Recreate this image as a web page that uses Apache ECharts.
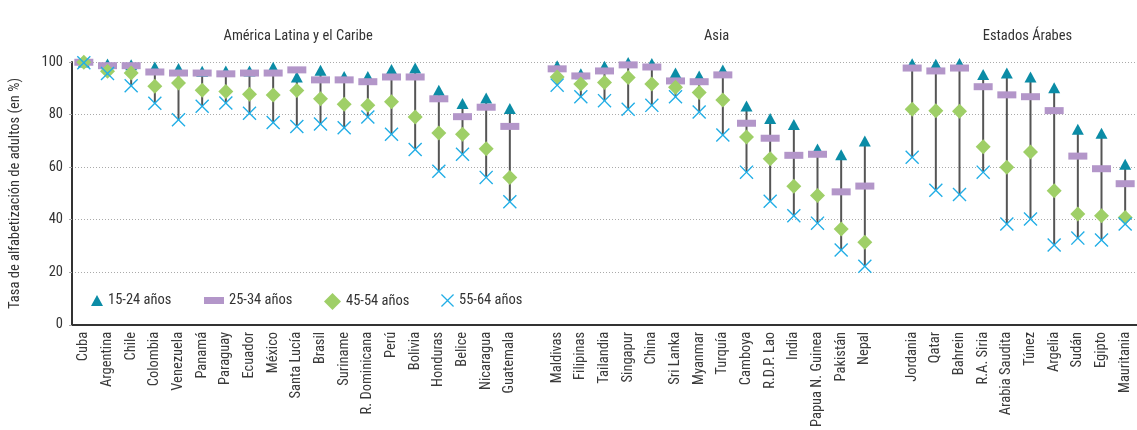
<!DOCTYPE html>
<html>
<head>
<meta charset="utf-8">
<script src="https://cdn.jsdelivr.net/npm/echarts@6/dist/echarts.min.js"></script>
<style>
    html, body {margin: 0; padding: 0; background: #fff;}
    #chart {width: 1137px; height: 430px;}
</style>
</head>
<body>
<div id="chart"></div>
<script>
    // países (con un hueco '' entre regiones)
    var countries = ['Cuba', 'Argentina', 'Chile', 'Colombia', 'Venezuela', 'Panamá', 'Paraguay', 'Ecuador', 'México',
        'Santa Lucía', 'Brasil', 'Suriname', 'R. Dominicana', 'Perú', 'Bolivia', 'Honduras', 'Belice', 'Nicaragua', 'Guatemala',
        '',
        'Maldivas', 'Filipinas', 'Tailandia', 'Singapur', 'China', 'Sri Lanka', 'Myanmar', 'Turquía', 'Camboya',
        'R.D.P. Lao', 'India', 'Papua N. Guinea', 'Pakistán', 'Nepal',
        '',
        'Jordania', 'Qatar', 'Bahrein', 'R.A. Siria', 'Arabia Saudita', 'Túnez', 'Argelia', 'Sudán', 'Egipto', 'Mauritania'];
    var regions = ['América Latina y el Caribe', 'Asia', 'Estados Árabes'];
    var regionStart = [0, 20, 35];
    var regionSize = [19, 14, 10];

    var age15_24 = [100, 99.2, 99, 98.1, 97.5, 96.5, 96.6, 96.6, 98, 94.3, 96.9, 94.5, 94.5, 97.1, 97.7, 89.3, 84.2, 86.3, 82.3,
        null,
        98.6, 95.5, 98.4, 99.8, 99.4, 95.8, 94.7, 97, 83.3, 78.5, 76.2, 66.9, 64.7, 69.9,
        null,
        99.3, 99.1, 99.4, 95.2, 95.8, 94.3, 90.2, 74.4, 72.9, 61.1];
    var age25_34 = [99.9, 98.6, 98.6, 96.2, 95.8, 95.8, 95.5, 95.8, 95.8, 97, 93.2, 93.2, 92.5, 94.3, 94.3, 86, 79.2, 82.8, 75.5,
        null,
        97.4, 94.7, 96.6, 98.9, 98.1, 92.8, 92.5, 95.1, 76.7, 71, 64.5, 64.9, 50.6, 52.8,
        null,
        97.7, 96.6, 97.7, 90.6, 87.5, 86.8, 81.5, 64.2, 59.4, 53.7];
    var age45_54 = [99.9, 96.5, 95.8, 90.8, 92, 89.3, 88.8, 87.7, 87.4, 89.2, 86, 83.9, 83.5, 84.9, 79.1, 73, 72.5, 67, 56.1,
        null,
        94.3, 91.6, 92.2, 94.1, 91.6, 90.4, 88.4, 85.5, 71.5, 63.2, 52.7, 49.2, 36.5, 31.4,
        null,
        82, 81.5, 81.3, 67.8, 60, 65.8, 51, 42.2, 41.5, 40.8];
    var age55_64 = [99.7, 95.6, 91, 84.3, 78, 83.2, 84.4, 80.5, 77, 75.5, 76.4, 75, 79.1, 72.5, 66.7, 58.4, 64.9, 56.1, 46.8,
        null,
        91.2, 86.8, 85.3, 82, 83.5, 86.8, 81, 72.2, 58.1, 47, 41.5, 38.7, 28.5, 22.3,
        null,
        63.8, 51.2, 49.6, 58.1, 38.4, 40.3, 30.4, 33, 32.3, 38.4];
    var seriesNames = ['15-24 años', '25-34 años', '45-54 años', '55-64 años'];
    var yTicks = [0, 20, 40, 60, 80, 100];

    var FONT = '"Liberation Sans Narrow", "Roboto Condensed", "DejaVu Sans Condensed", sans-serif';
    var FS = 14.5;
    var gridLeft = 66, gridWidth = 1076, slot = gridWidth / countries.length;
    var crossPath = 'path://M7,0L50,43L93,0L100,7L57,50L100,93L93,100L50,57L7,100L0,93L43,50L0,7Z';

    // rango (min-max) por país
    var ranges = countries.map(function (c, i) {
        var vals = [age15_24[i], age25_34[i], age45_54[i], age55_64[i]].filter(function (v) {
            return v !== null;
        });
        if (!vals.length) return [i, null, null];
        return [i, Math.min.apply(null, vals), Math.max.apply(null, vals)];
    });

    var myChart = echarts.init(document.getElementById('chart'));
    var option = {
        animation: false,
        textStyle: {fontFamily: FONT},
        title: regions.map(function (r, k) {
            return {
                text: r,
                left: gridLeft + (regionStart[k] + regionSize[k] / 2) * slot,
                top: 24,
                textAlign: 'center',
                textStyle: {fontFamily: FONT, fontSize: FS, fontWeight: 'normal', color: '#333'}
            };
        }),
        legend: [
            {name: seriesNames[0], icon: 'triangle', w: 12, h: 11, left: 91},
            {name: seriesNames[1], icon: 'rect', w: 20, h: 7, left: 204},
            {name: seriesNames[2], icon: 'diamond', w: 17, h: 17, left: 324},
            {name: seriesNames[3], icon: crossPath, w: 13, h: 13, left: 441}
        ].map(function (l) {
            return {
                data: [{name: l.name, icon: l.icon}],
                left: l.left,
                top: 301 - 8,
                itemWidth: l.w,
                itemHeight: l.h,
                itemGap: 0,
                padding: 0,
                selectedMode: false,
                textStyle: {fontFamily: FONT, fontSize: FS, color: '#333'}
            };
        }),
        grid: {left: gridLeft, top: 62, width: gridWidth, height: 264},
        xAxis: {
            type: 'category',
            data: countries,
            axisLine: {lineStyle: {color: '#333', width: 2}},
            axisTick: {show: false},
            axisLabel: {
                interval: 0,
                rotate: 90,
                margin: 7,
                fontFamily: FONT,
                fontSize: FS,
                color: '#3a3a3a'
            },
            splitLine: {show: false}
        },
        yAxis: {
            type: 'value',
            min: 0,
            max: 100,
            interval: 20,
            name: 'Tasa de alfabetización de adultos (en %)',
            nameLocation: 'middle',
            nameGap: 49,
            nameTextStyle: {fontFamily: FONT, fontSize: FS, color: '#333'},
            axisLine: {show: true, lineStyle: {color: '#333', width: 2}},
            axisTick: {show: true, length: 3, lineStyle: {color: '#aaa'}},
            axisLabel: {
                margin: 9,
                fontFamily: FONT,
                fontSize: FS,
                color: '#333',
                formatter: function (v) {
                    return yTicks.indexOf(v) > -1 ? v : '';
                }
            },
            splitLine: {lineStyle: {color: '#aaa', type: [1, 2], width: 1}}
        },
        series: [
            {
                type: 'custom',
                silent: true,
                z: 1,
                data: ranges,
                renderItem: function (params, api) {
                    if (api.value(1) === null || isNaN(api.value(1))) return;
                    var p1 = api.coord([api.value(0), api.value(1)]);
                    var p2 = api.coord([api.value(0), api.value(2)]);
                    return {
                        type: 'line',
                        shape: {x1: p1[0], y1: p1[1], x2: p2[0], y2: p2[1]},
                        style: {stroke: '#555', lineWidth: 2}
                    };
                }
            },
            {
                name: seriesNames[0], type: 'scatter', z: 2, symbol: 'triangle', symbolSize: [12, 11],
                itemStyle: {color: '#0B8CA6', opacity: 1}, data: age15_24
            },
            {
                name: seriesNames[1], type: 'scatter', z: 3, symbol: 'rect', symbolSize: [19, 7],
                itemStyle: {color: '#B396C9', opacity: 1}, data: age25_34
            },
            {
                name: seriesNames[2], type: 'scatter', z: 4, symbol: 'diamond', symbolSize: [15, 15],
                itemStyle: {color: '#9FCF67', opacity: 1}, data: age45_54
            },
            {
                name: seriesNames[3], type: 'scatter', z: 5, symbol: crossPath, symbolSize: [14, 14],
                itemStyle: {color: '#22AEE6', opacity: 1}, data: age55_64
            }
        ]
    };
    myChart.setOption(option);
</script>
</body>
</html>
